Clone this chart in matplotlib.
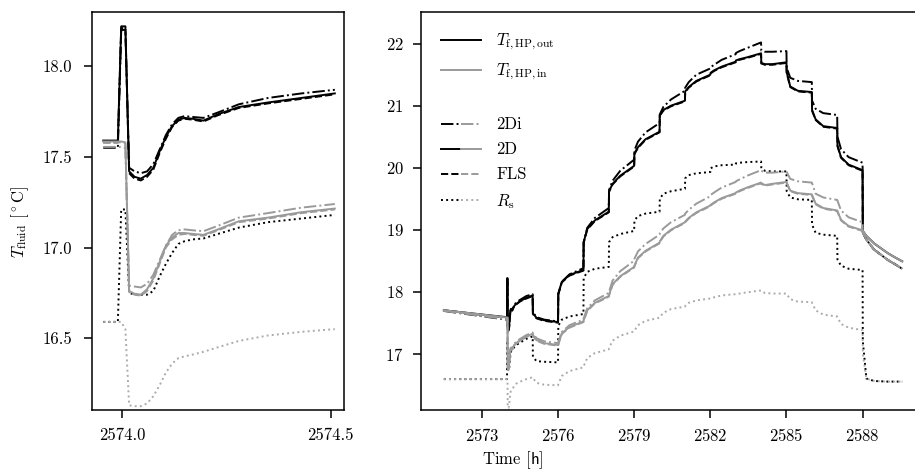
import numpy as np
import matplotlib
matplotlib.use("Agg")
from matplotlib import pyplot as plt
from matplotlib.lines import Line2D
from matplotlib.legend_handler import HandlerTuple

plt.rcParams.update({
    'font.family': 'serif',
    'font.serif': ['cmr10'],
    'mathtext.fontset': 'cm',
    'axes.formatter.use_mathtext': True,
    'font.size': 12,
    'axes.linewidth': 1.1,
    'xtick.major.size': 5.5,
    'ytick.major.size': 5.5,
    'xtick.major.width': 1.1,
    'ytick.major.width': 1.1,
    'xtick.major.pad': 7,
    'ytick.major.pad': 7,
})

# time [h]; dense around the heat pump start at 2574 h, then hourly knots
TIME = [2571.5, 2573.955, 2573.99,
        2573.998, 2574.008, 2574.017, 2574.03, 2574.045, 2574.06, 2574.075, 2574.09,
        2574.105, 2574.12, 2574.135, 2574.15, 2574.17, 2574.195, 2574.23, 2574.28,
        2574.35, 2574.43, 2574.51, 2574.75,
        2575.0, 2575.01, 2575.15, 2575.45,
        2576.0, 2576.01, 2576.15, 2576.45,
        2577.0, 2577.01, 2577.15, 2577.45,
        2578.0, 2578.01, 2578.15, 2578.45,
        2579.0, 2579.01, 2579.15, 2579.45,
        2580.0, 2580.01, 2580.15, 2580.45,
        2581.0, 2581.01, 2581.15, 2581.45,
        2582.0, 2582.01, 2582.15, 2582.45,
        2583.0, 2583.01, 2583.15, 2583.45,
        2584.0, 2584.01, 2584.15, 2584.45,
        2585.0, 2585.01, 2585.15, 2585.45,
        2586.0, 2586.01, 2586.15, 2586.45,
        2587.0, 2587.01, 2587.15, 2587.45,
        2588.0, 2588.01, 2588.15, 2588.45,
        2589.0, 2589.25, 2589.56]

# outlet temperature T_f,HP,out [degC]
OUT_2DI = [17.69, 17.55, 17.55,
           18.20, 18.20, 17.44, 17.42, 17.41, 17.42, 17.46, 17.54,
           17.62, 17.68, 17.715, 17.725, 17.72, 17.715, 17.745, 17.79,
           17.825, 17.85, 17.87, 17.93,
           17.96, 17.67, 17.59, 17.55,
           17.52, 17.96, 18.16, 18.28,
           18.38, 18.80, 19.03, 19.19,
           19.35, 19.64, 19.79, 19.95,
           20.13, 20.28, 20.42, 20.57,
           20.72, 20.86, 20.98, 21.10,
           21.24, 21.29, 21.38, 21.50,
           21.60, 21.62, 21.66, 21.74,
           21.83, 21.85, 21.88, 21.93,
           22.02, 21.89, 21.87, 21.87,
           21.88, 21.61, 21.45, 21.40,
           21.38, 21.08, 20.95, 20.88,
           20.85, 20.50, 20.30, 20.17,
           20.08, 18.95, 18.84, 18.68,
           18.51, 18.45, 18.37]
OUT_2D = [17.70, 17.59, 17.59,
          18.22, 18.22, 17.42, 17.39, 17.38, 17.40, 17.44, 17.53,
          17.61, 17.67, 17.705, 17.715, 17.71, 17.70, 17.735, 17.775,
          17.80, 17.825, 17.85, 17.90,
          17.94, 17.65, 17.58, 17.54,
          17.51, 17.97, 18.16, 18.27,
          18.35, 18.80, 19.01, 19.15,
          19.29, 19.62, 19.74, 19.87,
          20.03, 20.23, 20.33, 20.46,
          20.58, 20.85, 20.93, 21.00,
          21.08, 21.23, 21.30, 21.40,
          21.50, 21.53, 21.57, 21.63,
          21.71, 21.73, 21.75, 21.78,
          21.845, 21.69, 21.67, 21.67,
          21.70, 21.54, 21.31, 21.24,
          21.22, 20.93, 20.78, 20.67,
          20.64, 20.36, 20.17, 20.05,
          19.96, 18.98, 18.90, 18.78,
          18.62, 18.56, 18.49]
OUT_FLS = [17.70, 17.58, 17.58,
           18.21, 18.21, 17.41, 17.38, 17.37, 17.39, 17.43, 17.52,
           17.60, 17.665, 17.70, 17.71, 17.705, 17.695, 17.73, 17.77,
           17.795, 17.82, 17.845, 17.89,
           17.93, 17.64, 17.57, 17.53,
           17.50, 17.96, 18.15, 18.26,
           18.34, 18.79, 19.00, 19.14,
           19.28, 19.61, 19.73, 19.86,
           20.02, 20.22, 20.32, 20.45,
           20.57, 20.84, 20.92, 20.99,
           21.07, 21.22, 21.29, 21.39,
           21.49, 21.52, 21.56, 21.62,
           21.70, 21.72, 21.74, 21.77,
           21.835, 21.68, 21.66, 21.66,
           21.69, 21.53, 21.30, 21.23,
           21.21, 20.92, 20.77, 20.66,
           20.63, 20.35, 20.16, 20.04,
           19.95, 18.95, 18.84, 18.68,
           18.51, 18.45, 18.37]
OUT_RS = [16.59, 16.59, 16.59,
          17.21, 17.21, 16.75, 16.74, 16.74, 16.74, 16.76, 16.84,
          16.91, 16.97, 17.02, 17.035, 17.045, 17.05, 17.075, 17.11,
          17.14, 17.16, 17.18, 17.24,
          17.28, 16.95, 16.88, 16.87,
          16.86, 17.45, 17.55, 17.60,
          17.64, 18.22, 18.32, 18.37,
          18.40, 18.80, 18.88, 18.93,
          18.98, 19.15, 19.22, 19.26,
          19.29, 19.50, 19.58, 19.62,
          19.66, 19.83, 19.88, 19.91,
          19.93, 19.99, 20.02, 20.04,
          20.05, 20.07, 20.08, 20.09,
          20.10, 19.99, 19.95, 19.94,
          19.94, 19.62, 19.52, 19.49,
          19.48, 19.08, 18.95, 18.92,
          18.90, 18.52, 18.42, 18.37,
          18.35, 17.20, 16.60, 16.56,
          16.55, 16.55, 16.55]

# inlet temperature T_f,HP,in [degC]
IN_2DI = [17.69, 17.555, 17.555,
          17.555, 17.55, 16.79, 16.785, 16.78, 16.80, 16.85, 16.93,
          17.01, 17.07, 17.095, 17.10, 17.095, 17.09, 17.12, 17.165,
          17.19, 17.22, 17.24, 17.30,
          17.34, 17.33, 17.25, 17.20,
          17.17, 17.19, 17.35, 17.46,
          17.55, 17.57, 17.73, 17.86,
          17.98, 18.00, 18.18, 18.33,
          18.50, 18.53, 18.65, 18.77,
          18.92, 18.94, 19.02, 19.12,
          19.24, 19.26, 19.32, 19.42,
          19.54, 19.56, 19.60, 19.68,
          19.77, 19.78, 19.81, 19.87,
          19.96, 19.95, 19.92, 19.92,
          19.94, 19.93, 19.82, 19.78,
          19.76, 19.75, 19.58, 19.52,
          19.48, 19.47, 19.31, 19.20,
          19.12, 18.95, 18.84, 18.68,
          18.51, 18.45, 18.37]
IN_2D = [17.70, 17.585, 17.585,
         17.585, 17.58, 16.76, 16.745, 16.74, 16.77, 16.83, 16.92,
         17.01, 17.055, 17.08, 17.08, 17.075, 17.07, 17.10, 17.145,
         17.165, 17.195, 17.215, 17.28,
         17.32, 17.30, 17.22, 17.17,
         17.14, 17.16, 17.33, 17.43,
         17.52, 17.54, 17.70, 17.82,
         17.93, 17.95, 18.12, 18.25,
         18.40, 18.42, 18.55, 18.66,
         18.79, 18.81, 18.90, 19.00,
         19.12, 19.13, 19.19, 19.28,
         19.39, 19.40, 19.44, 19.51,
         19.59, 19.60, 19.63, 19.68,
         19.76, 19.75, 19.72, 19.74,
         19.77, 19.76, 19.63, 19.59,
         19.57, 19.56, 19.42, 19.35,
         19.31, 19.30, 19.16, 19.06,
         18.99, 18.98, 18.90, 18.78,
         18.62, 18.56, 18.49]
IN_FLS = [17.70, 17.58, 17.58,
          17.58, 17.575, 16.755, 16.74, 16.735, 16.76, 16.82, 16.91,
          17.00, 17.045, 17.07, 17.075, 17.07, 17.065, 17.095, 17.14,
          17.16, 17.19, 17.21, 17.27,
          17.31, 17.29, 17.21, 17.16,
          17.13, 17.15, 17.32, 17.42,
          17.51, 17.53, 17.69, 17.81,
          17.92, 17.94, 18.11, 18.24,
          18.39, 18.41, 18.54, 18.65,
          18.78, 18.80, 18.89, 18.99,
          19.11, 19.12, 19.18, 19.27,
          19.38, 19.39, 19.43, 19.50,
          19.58, 19.59, 19.62, 19.67,
          19.75, 19.74, 19.71, 19.73,
          19.76, 19.75, 19.62, 19.58,
          19.56, 19.55, 19.41, 19.34,
          19.30, 19.29, 19.15, 19.05,
          18.98, 18.95, 18.84, 18.68,
          18.51, 18.45, 18.37]
IN_RS = [16.59, 16.59, 16.59,
         16.59, 16.55, 16.13, 16.125, 16.125, 16.14, 16.18, 16.24,
         16.31, 16.36, 16.39, 16.40, 16.41, 16.425, 16.45, 16.485,
         16.515, 16.535, 16.55, 16.59,
         16.62, 16.61, 16.53, 16.50,
         16.49, 16.51, 16.64, 16.72,
         16.78, 16.80, 16.93, 17.01,
         17.07, 17.09, 17.21, 17.29,
         17.36, 17.37, 17.46, 17.53,
         17.58, 17.59, 17.66, 17.72,
         17.76, 17.77, 17.82, 17.86,
         17.89, 17.89, 17.91, 17.94,
         17.96, 17.96, 17.97, 17.99,
         18.02, 18.01, 17.98, 17.97,
         17.97, 17.96, 17.88, 17.84,
         17.83, 17.82, 17.70, 17.63,
         17.60, 17.59, 17.48, 17.42,
         17.38, 17.00, 16.60, 16.56,
         16.55, 16.55, 16.55]

MODELS = ['2Di', '2D', 'FLS', 'Rs']
MODEL_LABELS = ['2Di', '2D', 'FLS', r'$R_\mathrm{s}$']
STYLES = {'2Di': '-.', '2D': '-', 'FLS': '--', 'Rs': ':'}
OUT = {'2Di': OUT_2DI, '2D': OUT_2D, 'FLS': OUT_FLS, 'Rs': OUT_RS}
IN = {'2Di': IN_2DI, '2D': IN_2D, 'FLS': IN_FLS, 'Rs': IN_RS}

C_OUT = 'black'
C_IN = '#9a9a9a'
C_IN_RS = '#ababab'
LW = 1.4

t = np.array(TIME)

fig = plt.figure(figsize=(9.15, 4.72), dpi=100)
ax1 = fig.add_axes([92 / 915, 62 / 472, 252 / 915, 398 / 472])
ax2 = fig.add_axes([421 / 915, 62 / 472, 504 / 915, 398 / 472])


def draw(ax, mask):
    for m in MODELS:
        ax.plot(t[mask], np.array(OUT[m])[mask], ls=STYLES[m], color=C_OUT, lw=LW)
    for m in MODELS:
        c = C_IN_RS if m == 'Rs' else C_IN
        ax.plot(t[mask], np.array(IN[m])[mask], ls=STYLES[m], color=c, lw=LW)


# zoom on the first half hour after start-up
draw(ax1, (t >= 2573.95) & (t <= 2574.52))
ax1.set_xlim(2573.928, 2574.532)
ax1.set_ylim(16.104, 18.299)
ax1.set_xticks([2574.0, 2574.5], ['2574.0', '2574.5'])
ax1.set_yticks([16.5, 17.0, 17.5, 18.0], ['16.5', '17.0', '17.5', '18.0'])
ax1.tick_params(axis='y', pad=9)

# whole period
draw(ax2, np.ones(len(t), dtype=bool))
ax2.set_xlim(2570.6, 2590.46)
ax2.set_ylim(16.092, 22.511)
ax2.set_xticks([2573, 2576, 2579, 2582, 2585, 2588])
ax2.set_yticks([17, 18, 19, 20, 21, 22])

fig.text(20 / 915, 1 - 222 / 472, r'$T_\mathrm{fluid}$ [$^\circ$C]',
         rotation=90, ha='center', va='center')
fig.text(513 / 915, 1 - 460 / 472, r'Time [$\mathsf{h}$]', ha='center', va='center')

handles = [Line2D([], [], color=C_OUT, lw=LW),
           Line2D([], [], color=C_IN, lw=LW),
           Line2D([], [], color='none')]
labels = [r'$T_\mathrm{f,HP,out}$', r'$T_\mathrm{f,HP,in}$', ' ']
for m, lab in zip(MODELS, MODEL_LABELS):
    c = C_IN_RS if m == 'Rs' else C_IN
    handles.append((Line2D([], [], color=C_OUT, ls=STYLES[m], lw=LW),
                    Line2D([], [], color=c, ls=STYLES[m], lw=LW)))
    labels.append(lab)
ax2.legend(handles, labels, loc='upper left', frameon=False, handlelength=2.4,
           handletextpad=0.9, labelspacing=0.58, borderaxespad=0.8,
           handler_map={tuple: HandlerTuple(ndivide=None, pad=0)})

fig.savefig('out.png', dpi=100)
